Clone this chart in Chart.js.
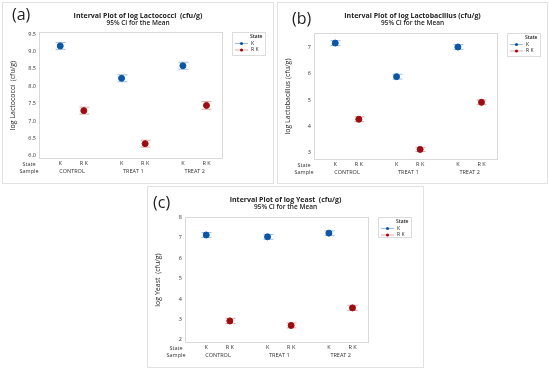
<!DOCTYPE html>
<html>
<head>
<meta charset="utf-8">
<script src="https://cdn.jsdelivr.net/npm/chart.js@4.4.1/dist/chart.umd.min.js"></script>
<style>
body { margin: 0; background: #fff; width: 550px; height: 371px; position: relative; overflow: hidden; }
.panel { position: absolute; border: 1px solid #e2e2e2; }
canvas { display: block; }
</style>
</head>
<body>
<div class="panel" style="left:2px;top:2px;"><canvas id="chartA" width="270" height="180"></canvas></div>
<div class="panel" style="left:277px;top:2px;"><canvas id="chartB" width="269" height="180"></canvas></div>
<div class="panel" style="left:147px;top:186px;"><canvas id="chartC" width="275" height="180"></canvas></div>
<script>
// categories
var samples = ['CONTROL', 'TREAT 1', 'TREAT 2'];
var states = ['K', 'R K'];
// x position of each state inside the sample groups
var xK = [0, 2.6, 5.2];
var xRK = [1, 3.6, 6.2];

// (a) log Lactococci
var lactococciK = [9.16, 8.23, 8.59];
var lactococciRK = [7.30, 6.35, 7.45];
var lactococciCiK = [0.10, 0.10, 0.10];
var lactococciCiRK = [0.10, 0.10, 0.11];
var ticksA = [6.0, 6.5, 7.0, 7.5, 8.0, 8.5, 9.0, 9.5];

// (b) log Lactobacillus
var lactobacillusK = [7.15, 5.88, 7.00];
var lactobacillusRK = [4.27, 3.13, 4.91];
var lactobacillusCiK = [0.09, 0.09, 0.09];
var lactobacillusCiRK = [0.09, 0.08, 0.09];
var ticksB = [3, 4, 5, 6, 7];

// (c) log Yeast
var yeastK = [7.14, 7.05, 7.23];
var yeastRK = [2.93, 2.71, 3.57];
var yeastCiK = [0.12, 0.12, 0.11];
var yeastCiRK = [0.13, 0.12, 0.13];
var ticksC = [2, 3, 4, 5, 6, 7, 8];

var blue = '#0d56a6';
var red = '#9c0d12';
var blueCi = '#9dbde2';
var redCi = '#e0a9a9';

Chart.defaults.font.family = '"Open Sans", sans-serif';
Chart.defaults.color = '#333';

function points(xs, ys) {
    return xs.map(function (x, i) { return { x: x, y: ys[i] }; });
}

var decor = {
    id: 'decor',
    beforeDatasetsDraw: function (chart, args, o) {
        var ctx = chart.ctx, a = chart.chartArea;
        ctx.save();
        ctx.strokeStyle = '#d9d9d9';
        ctx.lineWidth = 1;
        ctx.strokeRect(a.left + 0.5, a.top + 0.5, a.width - 1, a.height - 1);
        // confidence intervals
        chart.data.datasets.forEach(function (ds) {
            ctx.strokeStyle = ds.ciColor;
            ds.data.forEach(function (p, i) {
                var x = Math.round(chart.scales.x.getPixelForValue(p.x)) + 0.5;
                var y1 = chart.scales.y.getPixelForValue(p.y - ds.ci[i]);
                var y2 = chart.scales.y.getPixelForValue(p.y + ds.ci[i]);
                ctx.beginPath();
                ctx.moveTo(x, y1); ctx.lineTo(x, y2);
                ctx.moveTo(x - 5, y1); ctx.lineTo(x + 5, y1);
                ctx.moveTo(x - 5, y2); ctx.lineTo(x + 5, y2);
                ctx.stroke();
            });
        });
        ctx.restore();
    },
    afterDraw: function (chart, args, o) {
        var ctx = chart.ctx, a = chart.chartArea;
        var w = chart.width, sx = chart.scales.x;
        ctx.save();
        ctx.fillStyle = '#222';
        ctx.textAlign = 'left';
        ctx.textBaseline = 'middle';
        ctx.font = '16px "Open Sans", sans-serif';
        ctx.fillText(o.tag, o.tagX, o.tagY);

        ctx.textAlign = 'center';
        ctx.font = 'bold 7px "Open Sans", sans-serif';
        ctx.fillText(o.title, w / 2, o.titleY);
        ctx.font = '600 6.5px "Open Sans", sans-serif';
        ctx.fillText('95% CI for the Mean', w / 2, o.titleY + 7.5);

        // row labels and sample names under the state ticks
        ctx.font = '5.5px "Open Sans", sans-serif';
        ctx.fillStyle = '#333';
        ctx.fillText('State', o.rowX, a.bottom + 5);
        ctx.fillText('Sample', o.rowX, a.bottom + 12);
        samples.forEach(function (s, i) {
            ctx.fillText(s, sx.getPixelForValue((xK[i] + xRK[i]) / 2), a.bottom + 12);
        });

        // legend
        var lx = a.right + o.legGap, ly = a.top, lw = 33, lh = o.legH;
        ctx.strokeStyle = '#dcdcdc';
        ctx.strokeRect(lx + 0.5, ly + 0.5, lw, lh);
        ctx.fillStyle = '#222';
        ctx.font = '600 5px "Open Sans", sans-serif';
        ctx.textAlign = 'left';
        ctx.fillText('State', lx + 18, ly + 5);
        ctx.font = '5px "Open Sans", sans-serif';
        chart.data.datasets.forEach(function (ds, i) {
            var yy = ly + 11 + i * 6.5;
            ctx.strokeStyle = ds.ciColor;
            ctx.beginPath();
            ctx.moveTo(lx + 3, yy + 0.5); ctx.lineTo(lx + 16, yy + 0.5);
            ctx.stroke();
            ctx.fillStyle = ds.backgroundColor;
            ctx.beginPath();
            ctx.arc(lx + 9.5, yy + 0.5, 1.6, 0, Math.PI * 2);
            ctx.fill();
            ctx.fillStyle = '#222';
            ctx.fillText(ds.label, lx + 19, yy + 0.5);
        });
        ctx.restore();
    }
};

function makeChart(id, c) {
    var ctx = document.getElementById(id).getContext('2d');
    return new Chart(ctx, {
        type: 'scatter',
        data: {
            datasets: [{
                label: states[0],
                data: points(xK, c.k),
                ci: c.ciK,
                ciColor: blueCi,
                backgroundColor: blue,
                borderColor: blue,
                pointRadius: 3,
                pointHoverRadius: 3
            }, {
                label: states[1],
                data: points(xRK, c.rk),
                ci: c.ciRK,
                ciColor: redCi,
                backgroundColor: red,
                borderColor: red,
                pointRadius: 3,
                pointHoverRadius: 3
            }]
        },
        plugins: [decor],
        options: {
            responsive: false,
            devicePixelRatio: 1,
            animation: false,
            events: [],
            layout: { padding: { top: c.top, right: c.right, left: 0, bottom: 0 } },
            plugins: {
                legend: { display: false },
                tooltip: { enabled: false },
                decor: c.decor
            },
            scales: {
                x: {
                    type: 'linear',
                    position: 'bottom',
                    min: -0.9, max: 6.9,
                    grid: { display: false, drawTicks: false, tickLength: 0 },
                    border: { display: false },
                    afterBuildTicks: function (s) {
                        s.ticks = xK.concat(xRK).sort(function (p, q) { return p - q; }).map(function (v) { return { value: v }; });
                    },
                    afterFit: function (s) { s.height = c.bottom; },
                    ticks: {
                        autoSkip: false, maxRotation: 0, padding: 1,
                        font: { size: 5.5 }, color: '#333',
                        callback: function (v) { return xK.indexOf(v) >= 0 ? states[0] : states[1]; }
                    }
                },
                y: {
                    min: c.min, max: c.max,
                    grid: { display: false, drawTicks: false, tickLength: 0 },
                    border: { display: false },
                    afterBuildTicks: function (s) {
                        s.ticks = c.ticks.map(function (v) { return { value: v }; });
                    },
                    afterFit: function (s) { s.width = c.yw; },
                    ticks: {
                        padding: 3, font: { size: 5.5 }, color: '#333',
                        callback: function (v) { return c.dec ? v.toFixed(1) : String(v); }
                    },
                    title: {
                        display: true, text: c.yTitle, color: '#222',
                        font: { size: 7 }, padding: { top: 6, bottom: 0 }
                    }
                }
            }
        }
    });
}

makeChart('chartA', {
    k: lactococciK, rk: lactococciRK, ciK: lactococciCiK, ciRK: lactococciCiRK,
    ticks: ticksA, min: 5.91, max: 9.56, dec: true,
    yTitle: 'log Lactococci  (cfu/g)', top: 29, right: 50, bottom: 24, yw: 36,
    decor: { tag: '(a)', tagX: 9, tagY: 12, title: 'Interval Plot of log Lactococci  (cfu/g)', titleY: 13, rowX: 26, legGap: 9, legH: 23 }
});

makeChart('chartB', {
    k: lactobacillusK, rk: lactobacillusRK, ciK: lactobacillusCiK, ciRK: lactobacillusCiRK,
    ticks: ticksB, min: 2.73, max: 7.53, dec: false,
    yTitle: 'log Lactobacillus (cfu/g)', top: 30, right: 49, bottom: 23, yw: 36,
    decor: { tag: '(b)', tagX: 14, tagY: 16, title: 'Interval Plot of log Lactobacillus (cfu/g)', titleY: 13, rowX: 26, legGap: 9, legH: 23 }
});

makeChart('chartC', {
    k: yeastK, rk: yeastRK, ciK: yeastCiK, ciRK: yeastCiRK,
    ticks: ticksC, min: 1.85, max: 8.02, dec: false,
    yTitle: 'log Yeast  (cfu/g)', top: 30, right: 54, bottom: 24, yw: 37,
    decor: { tag: '(c)', tagX: 5, tagY: 16, title: 'Interval Plot of log Yeast  (cfu/g)', titleY: 13, rowX: 28, legGap: 9, legH: 20 }
});
</script>
</body>
</html>
